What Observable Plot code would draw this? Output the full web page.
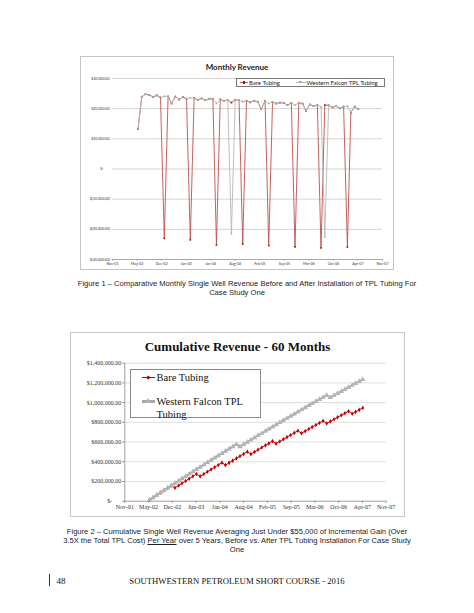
<!DOCTYPE html>
<html><head><meta charset="utf-8">
<script src="https://cdn.jsdelivr.net/npm/d3@7"></script>
<script src="https://cdn.jsdelivr.net/npm/@observablehq/plot@0.6"></script>
<style>
body{margin:0;background:#fff;}
#page{position:relative;width:474px;height:613px;overflow:hidden;background:#fff;}
.abs{position:absolute;white-space:nowrap;}
.box{position:absolute;box-sizing:border-box;}
.cap{font-family:"Liberation Sans",Arial,sans-serif;font-size:7.6px;color:#222;text-align:center;line-height:9px;}
</style></head><body>
<div id="page">
  <div class="box" style="left:80px;top:56px;width:314px;height:214px;border:1px solid #c4c4c4;"></div>
  <div id="c1" class="abs" style="left:80px;top:56px;"></div>
  <div class="abs" style="left:80px;width:314px;top:62px;text-align:center;font-family:Lato,sans-serif;font-weight:bold;font-size:8px;line-height:10px;color:#222;">Monthly Revenue</div>
  <div class="box" style="left:236px;top:77.5px;width:149px;height:9.5px;border:0.8px solid #777;background:#fff;font-family:Lato,sans-serif;font-size:6px;line-height:8px;color:#222;">
    <span class="abs" style="left:2.5px;top:3.6px;width:8.5px;height:0.9px;background:#c0504d;"></span>
    <span class="abs" style="left:5.6px;top:2.9px;width:2.2px;height:2.2px;background:#8b1a1a;"></span>
    <span class="abs" style="left:12px;top:0.5px;">Bare Tubing</span>
    <span class="abs" style="left:58.5px;top:3.6px;width:10px;height:0.9px;background:#b8b8b8;"></span>
    <span class="abs" style="left:62.3px;top:2.6px;width:2.4px;height:2.4px;background:#a8a8a8;"></span>
    <span class="abs" style="left:69.5px;top:0.5px;">Western Falcon TPL Tubing</span>
  </div>
  <div class="abs cap" style="left:0;width:494px;top:279px;">Figure 1 – Comparative Monthly Single Well Revenue Before and After Installation of TPL Tubing For</div>
  <div class="abs cap" style="left:0;width:474px;top:288px;">Case Study One</div>

  <div class="box" style="left:70px;top:332px;width:335px;height:185px;border:1px solid #c8c8c8;"></div>
  <div id="c2" class="abs" style="left:70px;top:332px;"></div>
  <div class="abs" style="left:70px;width:335px;top:338.5px;text-align:center;font-family:'Liberation Serif',serif;font-weight:bold;font-size:13px;line-height:16px;color:#111;">Cumulative Revenue - 60 Months</div>
  <div class="box" style="left:130px;top:369.3px;width:131px;height:48.4px;border:1.3px solid #8a8a8a;background:#fff;font-family:'Liberation Serif',serif;font-size:10.5px;line-height:13.3px;color:#111;">
    <span class="abs" style="left:10.5px;top:6.4px;width:13.5px;height:1px;background:#c00000;"></span>
    <span class="abs" style="left:15.8px;top:5.4px;width:2.6px;height:2.6px;background:#c00000;transform:rotate(45deg);"></span>
    <span class="abs" style="left:25.5px;top:0.5px;">Bare Tubing</span>
    <span class="abs" style="left:10.5px;top:30.2px;width:13.5px;height:2.2px;background:#a6a6a6;"></span>
    <span class="abs" style="left:14.3px;top:27.6px;width:0;height:0;border-left:3px solid transparent;border-right:3px solid transparent;border-bottom:5px solid #b0b0b0;"></span>
    <span class="abs" style="left:25.5px;top:24.8px;">Western Falcon TPL</span>
    <span class="abs" style="left:25.5px;top:38.1px;">Tubing</span>
  </div>
  <div class="abs cap" style="left:0;width:474px;top:526.5px;">Figure 2 – Cumulative Single Well Revenue Averaging Just Under $55,000 of Incremental Gain (Over</div>
  <div class="abs cap" style="left:0;width:474px;top:535.5px;">3.5X the Total TPL Cost) <u>Per Year</u> over 5 Years, Before vs. After TPL Tubing Installation For Case Study</div>
  <div class="abs cap" style="left:0;width:474px;top:544.5px;">One</div>

  <div class="abs" style="left:48.5px;top:574px;width:1px;height:12px;background:#333;"></div>
  <div class="abs" style="left:56.5px;top:575.5px;font-family:'Liberation Serif',serif;font-size:9px;line-height:11px;color:#111;">48</div>
  <div class="abs" style="left:0;width:474px;top:575.5px;text-align:center;font-family:'Liberation Serif',serif;font-size:8.7px;line-height:11px;color:#111;">SOUTHWESTERN PETROLEUM SHORT COURSE - 2016</div>
</div>
<script>
// ---- data ----
const xTickLabels = ["Nov-01","May-02","Dec-02","Jun-03","Jan-04","Aug-04","Feb-05","Sep-05","Mar-06","Oct-06","Apr-07","Nov-07"];
const monthlyYTicks = [30000,20000,10000,0,-10000,-20000,-30000];
const cumulativeYTicks = [0,200000,400000,600000,800000,1000000,1200000,1400000];
const seriesNames = ["Bare Tubing","Western Falcon TPL Tubing"];
// monthly revenue, Jun-2002 .. May-2007 (60 months)
const bareMonthly = [13300,23900,24800,24500,23900,24400,23700,-23000,24100,21700,
  24000,23000,23900,23300,-23500,23500,22900,23400,22800,23300,
  23200,-25200,23100,22600,22800,22000,22900,22800,-24900,22600,
  22100,22600,22300,19800,22600,-25400,22200,21700,22000,21900,
  21200,21900,-25800,21900,21700,19200,21400,20800,21200,-26200,
  21200,21100,20400,20800,20100,20700,-25900,18700,20700,19800];
const tplMonthly = [13300,23900,24800,24500,23900,24400,23700,24100,24100,21700,
  24000,23000,23900,23300,23600,23500,22900,23400,22800,23300,
  23200,21700,23100,22600,22800,-21500,22900,22800,22300,22600,
  22100,22600,22300,19800,22600,21700,22200,21700,22000,21900,
  21200,21900,21200,21900,21700,19200,21400,20800,21200,20600,
  -22500,21100,20400,20800,20100,20700,20800,18700,20700,19800];

// ---- derived ----
const DAY = 864e5;
const x0 = Date.UTC(2001, 10, 5);
const tickDates = xTickLabels.map((_, i) => new Date(x0 + i * 200 * DAY));
const labelByTime = new Map(tickDates.map((d, i) => [+d, xTickLabels[i]]));
const xDomain = [tickDates[0], tickDates[tickDates.length - 1]];
const months = bareMonthly.map((_, i) => new Date(Date.UTC(2002, 5 + i, 1)));
const bareCum = Array.from(d3.cumsum(bareMonthly));
const tplCum = Array.from(d3.cumsum(tplMonthly));
const f2 = d3.format(",.2f");
const fmtMonthly = v => v === 0 ? "$-\u2007\u2007\u2007" : v < 0 ? "$(" + f2(-v) + ")" : "$" + f2(v) + "\u2009";
const fmtCum = v => v === 0 ? "$-\u2007\u2007\u2007" : "$" + f2(v);

const chart1 = Plot.plot({
  width: 314, height: 214,
  marginLeft: 32, marginRight: 12, marginTop: 22, marginBottom: 11,
  style: {fontFamily: "Lato, sans-serif", fontSize: "3.6px", color: "#333", background: "transparent", overflow: "visible"},
  x: {type: "utc", domain: xDomain},
  y: {domain: [-30000, 30000]},
  marks: [
    Plot.ruleY(monthlyYTicks, {stroke: "#c2c2c2", strokeWidth: 0.7}),
    Plot.ruleY([-30000], {stroke: "#999", strokeWidth: 0.7}),
    Plot.axisY({ticks: monthlyYTicks, tickFormat: fmtMonthly, tickSize: 0, tickPadding: 2.5}),
    Plot.axisX({ticks: tickDates, tickFormat: d => labelByTime.get(+d), tickSize: 1.5, tickPadding: 1.5, stroke: "#999"}),
    Plot.line(bareMonthly, {x: (d, i) => months[i], y: d => d, stroke: "#c0504d", strokeWidth: 0.9}),
    Plot.dot(bareMonthly, {x: (d, i) => months[i], y: d => d, symbol: "square", r: 0.9, fill: "#8b1a1a"}),
    Plot.line(tplMonthly, {x: (d, i) => months[i], y: d => d, stroke: "#b8b8b8", strokeWidth: 0.9}),
    Plot.dot(tplMonthly, {x: (d, i) => months[i], y: d => d, symbol: "triangle", r: 0.9, fill: "#a8a8a8"})
  ]
});
document.getElementById("c1").append(chart1);

const chart2 = Plot.plot({
  width: 335, height: 185,
  marginLeft: 54.3, marginRight: 19.3, marginTop: 30.7, marginBottom: 16.3,
  style: {fontFamily: "'Liberation Serif', serif", fontSize: "6px", color: "#333", background: "transparent", overflow: "visible"},
  x: {type: "utc", domain: xDomain},
  y: {domain: [0, 1400000]},
  marks: [
    Plot.ruleY(cumulativeYTicks.filter(v => v > 0), {stroke: "#d4d4d4", strokeWidth: 0.8}),
    Plot.ruleY([0], {stroke: "#888", strokeWidth: 0.8}),
    Plot.ruleX([xDomain[0]], {stroke: "#888", strokeWidth: 0.8}),
    Plot.axisY({ticks: cumulativeYTicks, tickFormat: fmtCum, tickSize: 2, tickPadding: 1.5, stroke: "#888"}),
    Plot.axisX({ticks: tickDates, tickFormat: d => labelByTime.get(+d), tickSize: 2, tickPadding: 1.5, stroke: "#888"}),
    Plot.line(bareCum, {x: (d, i) => months[i], y: d => d, stroke: "#c00000", strokeWidth: 1}),
    Plot.dot(bareCum, {x: (d, i) => months[i], y: d => d, symbol: "diamond", r: 1.4, fill: "#c00000"}),
    Plot.line(tplCum, {x: (d, i) => months[i], y: d => d, stroke: "#a6a6a6", strokeWidth: 2}),
    Plot.dot(tplCum, {x: (d, i) => months[i], y: d => d, symbol: "triangle", r: 2, fill: "#b4b4b4"})
  ]
});
document.getElementById("c2").append(chart2);
</script>
</body></html>
